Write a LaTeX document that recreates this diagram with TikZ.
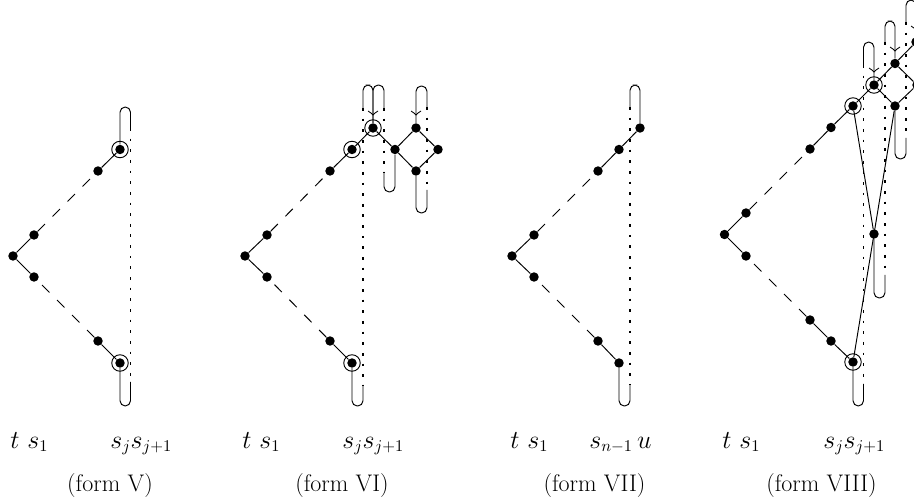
\documentclass[tikz,border=0pt]{standalone}
\tikzset{
  x=0.6667pt,y=-0.6667pt,
  dot/.style={circle,fill=black,inner sep=0pt,minimum size=6.3pt},
  ring/.style={circle,draw,line width=0.6pt,inner sep=0pt,minimum size=11pt},
  edge/.style={line width=0.64pt},
  dashedge/.style={line width=0.64pt,dash pattern=on 7pt off 7.14pt},
  dotline/.style={line width=0.85pt,dash pattern=on 1.8pt off 5.3pt},
  ushape/.style={line width=0.64pt,rounded corners=3.5pt},
  lab/.style={inner sep=0pt,anchor=base west,font=\fontsize{16}{19}\selectfont},
  formcap/.style={inner sep=0pt,anchor=base,font=\fontsize{16}{19}\selectfont}
}
\newcommand{\chevron}[2]{\draw[line width=0.55pt] (#1-5,#2-4) .. controls (#1-2.5,#2-2.5) and (#1-0.7,#2-1) .. (#1,#2) .. controls (#1+0.7,#2-1) and (#1+2.5,#2-2.5) .. (#1+5,#2-4);}
\begin{document}
\begin{tikzpicture}
\useasboundingbox (0,0) rectangle (914,504);
% form V
\foreach \n/\x/\y in {a/13/256,b/34/235,c/34/277,d/98/171,e/98/341,f/120/149.5,g/120/363}{\node[dot] (\n) at (\x,\y) {};}
\node[ring] (fr) at (f) {}; \node[ring] (gr) at (g) {};
\draw[edge] (a)--(b) (a)--(c) (d)--(f) (e)--(g);
\draw[dashedge] (b)--(d); \draw[dashedge] (e)--(c);
\draw[dotline] (130.5,128)--(130.5,382);
\draw[ushape] (f)--(120,107)--(130.5,107)--(130.5,128);
\draw[ushape] (g)--(120,406)--(130.5,406)--(130.5,382);
% form VI
\foreach \n/\x/\y in {a/245/256,b/267/235,c/267/277,d/330/171,e/330/341,f/352/149.5,g/352/363,h/373/128,i/395/149.5,j/416/128,k/416/171,l/438/149.5}{\node[dot] (\n2) at (\x,\y) {};}
\node[ring] at (f2) {}; \node[ring] at (g2) {}; \node[ring] at (h2) {};
\draw[edge] (a2)--(b2) (a2)--(c2) (d2)--(f2)--(h2)--(i2)--(j2)--(l2)--(k2)--(i2) (e2)--(g2);
\draw[dashedge] (b2)--(d2); \draw[dashedge] (e2)--(c2);
\draw[dotline] (363,108)--(363,385) (384,108)--(384,172) (427,107)--(427,190);
\draw[ushape] (363,108)--(363,85)--(373,85)--(h2);
\draw[ushape] (h2)--(373,85)--(384,85)--(384,108);
\draw[ushape] (g2)--(352,406)--(363,406)--(363,385);
\draw[ushape] (i2)--(395,192)--(384,192)--(384,172);
\draw[ushape] (j2)--(416,86)--(427,86)--(427,107);
\draw[ushape] (k2)--(416,213)--(427,213)--(427,190);
\chevron{373}{115} \chevron{416}{115}
% form VII
\foreach \n/\x/\y in {a/512/256,b/534/235,c/534/277,d/598/171,e/598/341,f/619/149.5,g/619/363,h/640/128}{\node[dot] (\n3) at (\x,\y) {};}
\draw[edge] (a3)--(b3) (a3)--(c3) (d3)--(f3)--(h3) (e3)--(g3);
\draw[dashedge] (b3)--(d3); \draw[dashedge] (e3)--(c3);
\draw[dotline] (630,107)--(630,385);
\draw[ushape] (h3)--(640,85)--(630,85)--(630,107);
\draw[ushape] (g3)--(619,406)--(630,406)--(630,385);
% form VIII
\foreach \n/\x/\y in {a/724.5/234.5,b/746/213,c/746/256,d/810/149,e/810/320,m/831/127.5,n/831/341,f/853/106,g/853/362,h/874/85,o/874/234,j/895/63.5,k/895/106,l/917/85,p/916/42}{\node[dot] (\n4) at (\x,\y) {};}
\node[ring] at (f4) {}; \node[ring] at (g4) {}; \node[ring] at (h4) {};
\draw[edge] (a4)--(b4) (a4)--(c4) (d4)--(m4)--(f4)--(h4)--(j4)--(p4) (j4)--(l4)--(k4)--(h4) (e4)--(n4)--(g4) (f4)--(o4) (k4)--(g4);
\draw[dashedge] (b4)--(d4); \draw[dashedge] (e4)--(c4);
\draw[dotline] (863.5,65)--(863.5,384) (885,42)--(885,275) (906,22)--(906,138);
\draw[ushape] (g4)--(853,406)--(863.5,406)--(863.5,384);
\draw[ushape] (o4)--(874,298)--(885,298)--(885,275);
\draw[ushape] (k4)--(895,159)--(906,159)--(906,138);
\draw[ushape] (863.5,65)--(863.5,42)--(874,42)--(h4);
\draw[ushape] (885,42)--(885,21)--(895,21)--(j4);
\draw[ushape] (906,22)--(906,0)--(916,0)--(p4);
\chevron{874}{72} \chevron{895}{51} \chevron{916}{30}
% labels
\foreach \x in {10,242,510,722}{\node[lab] (t\x) at (\x,448) {$t$};}
\foreach \x in {27,259,527,739}{\node[lab] (s\x) at (\x,448) {$s_1$};}
\foreach \x in {110,342,823}{\node[lab] (j\x) at (\x,448) {$s_js_{j+1}$};}
\node[lab] (n) at (589,448) {$s_{n-1}\,u$};
\node[formcap] (l1) at (110,491) {(form V)};
\node[formcap] (l2) at (342,491) {(form VI)};
\node[formcap] (l3) at (594.5,491) {(form VII)};
\node[formcap] (l4) at (821.5,491) {(form VIII)};
\end{tikzpicture}
\end{document}
